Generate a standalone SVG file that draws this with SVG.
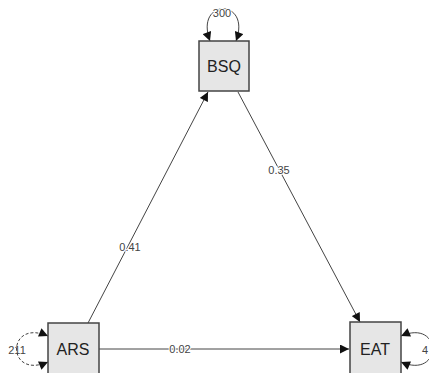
<svg xmlns="http://www.w3.org/2000/svg" width="429" height="373" viewBox="0 0 429 373">
<defs>
<marker id="ah" viewBox="0 0 10 10" refX="10" refY="5" markerWidth="10" markerHeight="9" markerUnits="userSpaceOnUse" orient="auto-start-reverse"><path d="M0,0 L10,5 L0,10 z" fill="#111"/></marker>
</defs>
<style>
.node rect{fill:#e6e6e6;stroke:#444;stroke-width:1.5}
.node text{font-family:"Liberation Sans",Arial,sans-serif;font-size:16px;fill:#222;text-anchor:middle}
.e{stroke:#444;stroke-width:1;fill:none;marker-end:url(#ah)}
.loop{marker-start:url(#ah)}
.lbl{font-family:"Liberation Sans",Arial,sans-serif;font-size:11px;fill:#444;text-anchor:middle;paint-order:stroke;stroke:#fff;stroke-width:2px}
</style>
<rect width="429" height="373" fill="#fff"/>
<g id="connectors">
<path class="e" d="M88,323 L208,92"/>
<path class="e" d="M238,92 L360,322"/>
<path class="e" d="M99,349 L349,349"/>
<path class="e loop" d="M210,41 C194,-2 252,-2 236,41"/>
<path class="e loop" d="M48,336 C6,318 6,380 48,362" style="stroke-dasharray:3,2"/>
<path class="e loop" d="M401,336 C443,318 443,380 401,362"/>
<text class="lbl" x="222" y="17">300</text>
<text class="lbl" x="130" y="251">0.41</text>
<text class="lbl" x="279" y="174">0.35</text>
<text class="lbl" x="180" y="353">0.02</text>
<text class="lbl" x="17" y="354" style="stroke:none">211</text>
<text class="lbl" x="422" y="354" style="text-anchor:start;stroke:none">4</text>
</g>
<g id="BSQ" class="node"><rect x="199" y="41" width="50" height="50"/><text x="224" y="72">BSQ</text></g>
<g id="ARS" class="node"><rect x="48" y="323" width="51" height="52"/><text x="73" y="355">ARS</text></g>
<g id="EAT" class="node"><rect x="350" y="322" width="51" height="53"/><text x="375" y="355">EAT</text></g>
</svg>
